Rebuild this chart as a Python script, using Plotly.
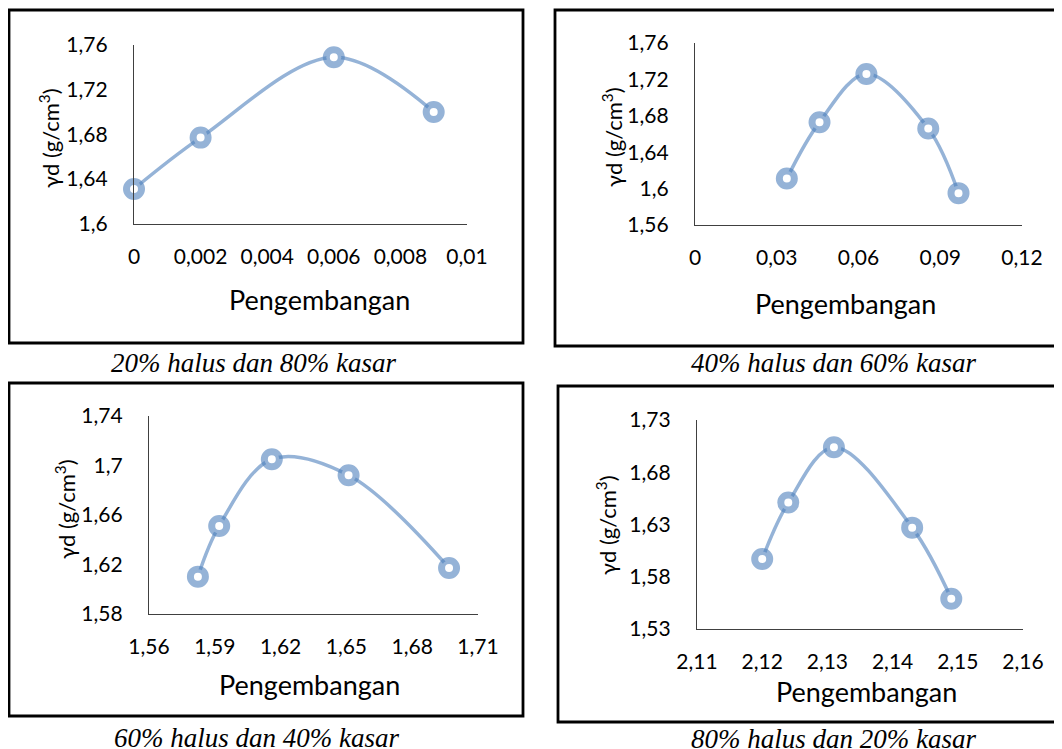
import plotly.graph_objects as go

# ---------------- data ----------------
x1 = [0.0, 0.002, 0.006, 0.009]
y1 = [1.631, 1.677, 1.749, 1.700]

x2 = [0.0337, 0.0457, 0.0629, 0.0856, 0.0967]
y2 = [1.611, 1.673, 1.726, 1.666, 1.595]

x3 = [1.5823, 1.592, 1.616, 1.651, 1.6968]
y3 = [1.610, 1.651, 1.705, 1.692, 1.617]

x4 = [2.120, 2.124, 2.131, 2.143, 2.149]
y4 = [1.597, 1.651, 1.704, 1.627, 1.559]

xt1 = [0, 0.002, 0.004, 0.006, 0.008, 0.01]
xl1 = ["0", "0,002", "0,004", "0,006", "0,008", "0,01"]
yt1 = [1.6, 1.64, 1.68, 1.72, 1.76]
yl1 = ["1,6", "1,64", "1,68", "1,72", "1,76"]

xt2 = [0, 0.03, 0.06, 0.09, 0.12]
xl2 = ["0", "0,03", "0,06", "0,09", "0,12"]
yt2 = [1.56, 1.6, 1.64, 1.68, 1.72, 1.76]
yl2 = ["1,56", "1,6", "1,64", "1,68", "1,72", "1,76"]

xt3 = [1.56, 1.59, 1.62, 1.65, 1.68, 1.71]
xl3 = ["1,56", "1,59", "1,62", "1,65", "1,68", "1,71"]
yt3 = [1.58, 1.62, 1.66, 1.7, 1.74]
yl3 = ["1,58", "1,62", "1,66", "1,7", "1,74"]

xt4 = [2.11, 2.12, 2.13, 2.14, 2.15, 2.16]
xl4 = ["2,11", "2,12", "2,13", "2,14", "2,15", "2,16"]
yt4 = [1.53, 1.58, 1.63, 1.68, 1.73]
yl4 = ["1,53", "1,58", "1,63", "1,68", "1,73"]

captions = ["20% halus dan 80% kasar", "40% halus dan 60% kasar",
            "60% halus dan 40% kasar", "80% halus dan 20% kasar"]
x_title = "Pengembangan"
y_title = "γd (g/cm<sup>3</sup>)"

# ---------------- layout helpers ----------------
# the page body has an 8px margin, so the figure starts at (8, 8) in the window
OFF = 8
W, H = 1062 - OFF, 749 - OFF
def px(v):
    return (v - OFF) / W
def py(v):
    return 1 - (v - OFF) / H

LINE = "rgba(79,129,189,0.6)"
FONT = "Lato"

# panel geometry in window pixels
panels = [
    dict(x=(134, 467), y=(45, 223.5), xr=[0, 0.01], yr=[1.6, 1.76],
         xt=xt1, xl=xl1, yt=yt1, yl=yl1, data=(x1, y1),
         box=(9, 10, 523, 343), cap=(253, 363), xtit=(319, 300), ytit=(49, 138)),
    dict(x=(695, 1022), y=(43, 225), xr=[0, 0.12], yr=[1.56, 1.76],
         xt=xt2, xl=xl2, yt=yt2, yl=yl2, data=(x2, y2),
         box=(555, 10, 1061, 346), cap=(833, 363), xtit=(845, 303), ytit=(613, 137)),
    dict(x=(149, 478), y=(416, 613.7), xr=[1.56, 1.71], yr=[1.58, 1.74],
         xt=xt3, xl=xl3, yt=yt3, yl=yl3, data=(x3, y3),
         box=(9, 383, 523, 716), cap=(256, 738), xtit=(309, 684), ytit=(65, 509)),
    dict(x=(697, 1023), y=(420, 629), xr=[2.11, 2.16], yr=[1.53, 1.73],
         xt=xt4, xl=xl4, yt=yt4, yl=yl4, data=(x4, y4),
         box=(558, 386, 1061, 722), cap=(833, 739), xtit=(866, 691), ytit=(606, 525)),
]

fig = go.Figure()
shapes = []
annotations = []
layout_axes = {}

for i, p in enumerate(panels, start=1):
    xa = "x" if i == 1 else f"x{i}"
    ya = "y" if i == 1 else f"y{i}"
    xs, ys = p["data"]
    fig.add_trace(go.Scatter(
        x=xs, y=ys, xaxis=xa, yaxis=ya, mode="lines+markers",
        line=dict(color=LINE, width=3.5, shape="spline", smoothing=1.0),
        marker=dict(symbol="circle", size=15, color="white",
                    line=dict(color=LINE, width=7)),
        showlegend=False, cliponaxis=False, hoverinfo="skip"))
    axis_common = dict(showgrid=False, zeroline=False, showline=True,
                       linecolor="#404040", linewidth=1.3,
                       ticks="outside", tickcolor="rgba(0,0,0,0)",
                       tickfont=dict(family=FONT, size=21, color="#000"),
                       fixedrange=True, automargin=False)
    layout_axes["xaxis" if i == 1 else f"xaxis{i}"] = dict(
        axis_common, domain=[px(p["x"][0]), px(p["x"][1])], range=p["xr"],
        tickvals=p["xt"], ticktext=p["xl"], ticklen=14,
        anchor=ya)
    layout_axes["yaxis" if i == 1 else f"yaxis{i}"] = dict(
        axis_common, domain=[py(p["y"][1]), py(p["y"][0])], range=p["yr"],
        tickvals=p["yt"], ticktext=p["yl"], ticklen=21,
        anchor=xa)
    bx0, by0, bx1, by1 = p["box"]
    shapes.append(dict(type="rect", xref="paper", yref="paper",
                       x0=px(bx0), x1=px(bx1), y0=py(by1), y1=py(by0),
                       line=dict(color="black", width=2.8), layer="below"))
    annotations.append(dict(text=captions[i - 1], xref="paper", yref="paper",
                            x=px(p["cap"][0]), y=py(p["cap"][1]),
                            xanchor="center", yanchor="middle", showarrow=False,
                            font=dict(family="Liberation Serif", size=27,
                                      color="#000", style="italic")))
    annotations.append(dict(text=x_title, xref="paper", yref="paper",
                            x=px(p["xtit"][0]), y=py(p["xtit"][1]),
                            xanchor="center", yanchor="middle", showarrow=False,
                            font=dict(family=FONT, size=27, color="#000")))
    annotations.append(dict(text=y_title, xref="paper", yref="paper",
                            x=px(p["ytit"][0]), y=py(p["ytit"][1]),
                            xanchor="center", yanchor="middle", showarrow=False,
                            textangle=-90,
                            font=dict(family=FONT, size=22, color="#000")))

fig.update_layout(
    width=W, height=H,
    margin=dict(l=0, r=0, t=0, b=0, pad=0, autoexpand=False),
    paper_bgcolor="white", plot_bgcolor="rgba(0,0,0,0)",
    separators=",.", shapes=shapes, annotations=annotations,
    **layout_axes)

fig.write_html("out.html")
